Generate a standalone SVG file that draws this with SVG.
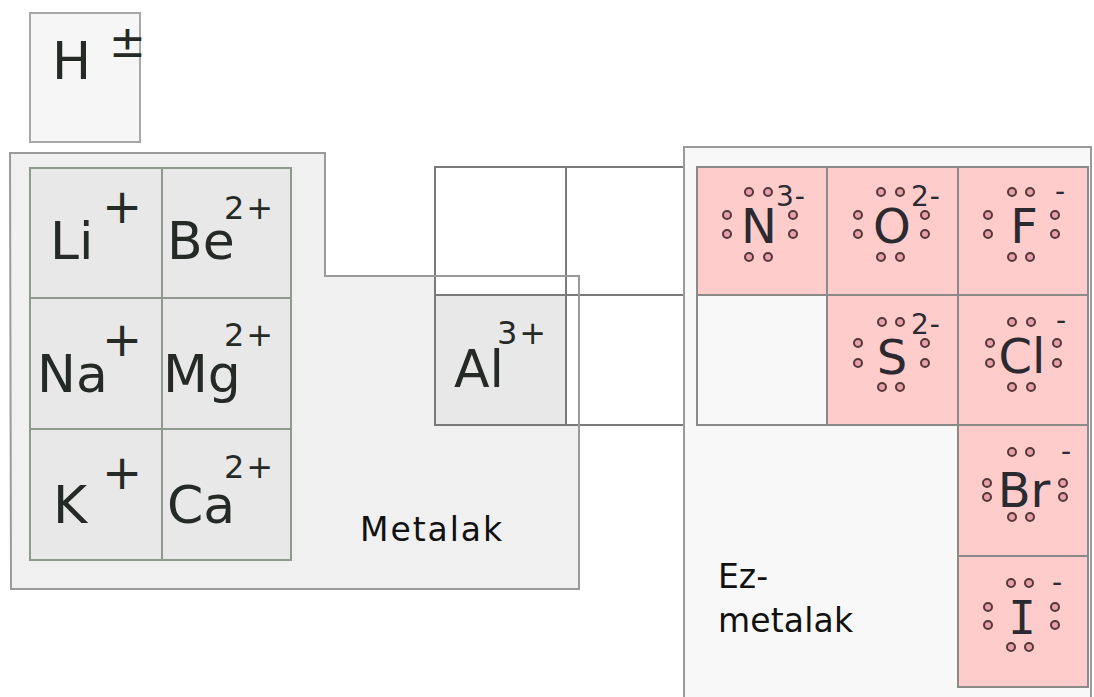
<svg xmlns="http://www.w3.org/2000/svg" width="1094" height="697" viewBox="0 0 1094 697">
<style>
.el{font-family:"DejaVu Sans","Liberation Sans",sans-serif;font-size:52px;fill:#262a26}
.nm{font-family:"DejaVu Sans","Liberation Sans",sans-serif;font-size:48px;fill:#2a2a30;text-anchor:middle}
.pl{font-family:"DejaVu Sans","Liberation Sans",sans-serif;font-size:48px;fill:#262a26;text-anchor:middle}
.sup{font-family:"DejaVu Sans","Liberation Sans",sans-serif;font-size:32px;fill:#262a26;letter-spacing:2px}
.nsup{font-family:"DejaVu Sans","Liberation Sans",sans-serif;font-size:28px;fill:#2a2a30;letter-spacing:1px}
.lbl{font-family:"DejaVu Sans","Liberation Sans",sans-serif;font-size:33px;fill:#111}
.mc{fill:#e8e8e8;stroke:#8e9a8e;stroke-width:2}
.pk{fill:#ffcccc;stroke:#8a8a8a;stroke-width:2}
.wc{fill:#ffffff;stroke:#7a7a7a;stroke-width:2}
.dot{fill:#e8a0ac;stroke:#553838;stroke-width:2}
</style>

<g id="hydrogen">
<rect x="30" y="13" width="110" height="129" fill="#f6f6f6" stroke="#a8a8a8" stroke-width="2"/>
<text class="el" x="52" y="79">H</text>
<text class="el" x="109" y="57" style="font-size:44px">±</text>
</g>

<g id="metal-region">
<path d="M10,153 H325 V276 H579 V589 H11 Z" fill="#f0f0f0" stroke="none"/>
</g>

<g id="empty-grid">
<rect class="wc" x="435" y="167" width="131" height="128"/>
<rect class="wc" x="566" y="167" width="131" height="128"/>
<rect class="wc" x="566" y="295" width="131" height="130"/>
</g>

<g id="nonmetal-region">
<rect x="684" y="147" width="407" height="560" fill="#f8f8f8" stroke="#9a9a9a" stroke-width="2"/>
</g>

<g id="metal-outline">
<path d="M10,153 H325 V276 H579 V589 H11 Z" fill="none" stroke="#9a9a9a" stroke-width="2"/>
</g>

<g id="Li">
<rect class="mc" x="30" y="168" width="132" height="130"/>
<text class="el" x="50" y="259">Li</text>
<text class="pl" x="122" y="223">+</text>
</g>
<g id="Be">
<rect class="mc" x="162" y="168" width="129" height="130"/>
<text class="el" x="167" y="259">Be</text>
<text class="sup" x="224" y="219">2+</text>
</g>
<g id="Na">
<rect class="mc" x="30" y="298" width="132" height="131"/>
<text class="el" x="37" y="392">Na</text>
<text class="pl" x="122" y="356">+</text>
</g>
<g id="Mg">
<rect class="mc" x="162" y="298" width="129" height="131"/>
<text class="el" x="163" y="392">Mg</text>
<text class="sup" x="224" y="346">2+</text>
</g>
<g id="K">
<rect class="mc" x="30" y="429" width="132" height="131"/>
<text class="el" x="53" y="523">K</text>
<text class="pl" x="122" y="489">+</text>
</g>
<g id="Ca">
<rect class="mc" x="162" y="429" width="129" height="131"/>
<text class="el" x="167" y="523">Ca</text>
<text class="sup" x="224" y="478">2+</text>
</g>
<g id="Al">
<rect x="435" y="295" width="131" height="130" fill="#e8e8e8" stroke="#7a7a7a" stroke-width="2"/>
<text class="el" x="454" y="387">Al</text>
<text class="sup" x="497" y="344">3+</text>
</g>

<g id="metalak-label">
<text class="lbl" x="360" y="541" textLength="142">Metalak</text>
</g>

<g id="empty-nonmetal">
<rect x="697" y="295" width="130" height="130" fill="#f8f8f8" stroke="#8a8a8a" stroke-width="2"/>
</g>

<g id="N">
<rect class="pk" x="697" y="167" width="130" height="128"/>
<text class="nm" x="759" y="243">N</text>
<text class="nsup" x="776" y="206">3-</text>
<circle class="dot" cx="749" cy="192" r="4"/><circle class="dot" cx="768" cy="192" r="4"/>
<circle class="dot" cx="727" cy="215" r="4"/><circle class="dot" cx="727" cy="234" r="4"/>
<circle class="dot" cx="793" cy="215" r="4"/><circle class="dot" cx="793" cy="234" r="4"/>
<circle class="dot" cx="749" cy="257" r="4"/><circle class="dot" cx="768" cy="257" r="4"/>
</g>
<g id="O">
<rect class="pk" x="827" y="167" width="131" height="128"/>
<text class="nm" x="892" y="243">O</text>
<text class="nsup" x="911" y="206">2-</text>
<circle class="dot" cx="881" cy="192" r="4"/><circle class="dot" cx="900" cy="192" r="4"/>
<circle class="dot" cx="858" cy="215" r="4"/><circle class="dot" cx="858" cy="234" r="4"/>
<circle class="dot" cx="925" cy="215" r="4"/><circle class="dot" cx="925" cy="234" r="4"/>
<circle class="dot" cx="881" cy="257" r="4"/><circle class="dot" cx="900" cy="257" r="4"/>
</g>
<g id="F">
<rect class="pk" x="958" y="167" width="130" height="128"/>
<text class="nm" x="1024" y="243">F</text>
<text class="nsup" x="1055" y="201">-</text>
<circle class="dot" cx="1012" cy="192" r="4"/><circle class="dot" cx="1030" cy="192" r="4"/>
<circle class="dot" cx="988" cy="215" r="4"/><circle class="dot" cx="988" cy="234" r="4"/>
<circle class="dot" cx="1055" cy="215" r="4"/><circle class="dot" cx="1055" cy="234" r="4"/>
<circle class="dot" cx="1012" cy="257" r="4"/><circle class="dot" cx="1030" cy="257" r="4"/>
</g>
<g id="S">
<rect class="pk" x="827" y="295" width="131" height="130"/>
<text class="nm" x="892" y="374">S</text>
<text class="nsup" x="911" y="334">2-</text>
<circle class="dot" cx="882" cy="322" r="4"/><circle class="dot" cx="900" cy="322" r="4"/>
<circle class="dot" cx="858" cy="343" r="4"/><circle class="dot" cx="858" cy="363" r="4"/>
<circle class="dot" cx="925" cy="343" r="4"/><circle class="dot" cx="925" cy="363" r="4"/>
<circle class="dot" cx="882" cy="387" r="4"/><circle class="dot" cx="900" cy="387" r="4"/>
</g>
<g id="Cl">
<rect class="pk" x="958" y="295" width="130" height="130"/>
<text class="nm" x="1022" y="373">Cl</text>
<text class="nsup" x="1056" y="330">-</text>
<circle class="dot" cx="1012" cy="322" r="4"/><circle class="dot" cx="1031" cy="322" r="4"/>
<circle class="dot" cx="990" cy="343" r="4"/><circle class="dot" cx="990" cy="363" r="4"/>
<circle class="dot" cx="1057" cy="343" r="4"/><circle class="dot" cx="1057" cy="363" r="4"/>
<circle class="dot" cx="1012" cy="387" r="4"/><circle class="dot" cx="1031" cy="387" r="4"/>
</g>
<g id="Br">
<rect class="pk" x="958" y="425" width="130" height="131"/>
<text class="nm" x="1024" y="507">Br</text>
<text class="nsup" x="1061" y="461">-</text>
<circle class="dot" cx="1012" cy="452" r="4"/><circle class="dot" cx="1030" cy="452" r="4"/>
<circle class="dot" cx="987" cy="483" r="4"/><circle class="dot" cx="987" cy="497" r="4"/>
<circle class="dot" cx="1063" cy="483" r="4"/><circle class="dot" cx="1063" cy="497" r="4"/>
<circle class="dot" cx="1012" cy="517" r="4"/><circle class="dot" cx="1030" cy="517" r="4"/>
</g>
<g id="I">
<rect class="pk" x="958" y="556" width="130" height="131"/>
<text class="nm" x="1022" y="634" style="font-family:'DejaVu Sans Mono','Liberation Mono',monospace;font-size:46px">I</text>
<text class="nsup" x="1052" y="592">-</text>
<circle class="dot" cx="1011" cy="583" r="4"/><circle class="dot" cx="1029" cy="583" r="4"/>
<circle class="dot" cx="988" cy="607" r="4"/><circle class="dot" cx="988" cy="625" r="4"/>
<circle class="dot" cx="1055" cy="607" r="4"/><circle class="dot" cx="1055" cy="625" r="4"/>
<circle class="dot" cx="1011" cy="647" r="4"/><circle class="dot" cx="1029" cy="647" r="4"/>
</g>

<g id="ezmetalak-label">
<text class="lbl" x="718" y="588">Ez-</text>
<text class="lbl" x="718" y="632" textLength="135">metalak</text>
</g>

<g id="connectors"></g>
</svg>
